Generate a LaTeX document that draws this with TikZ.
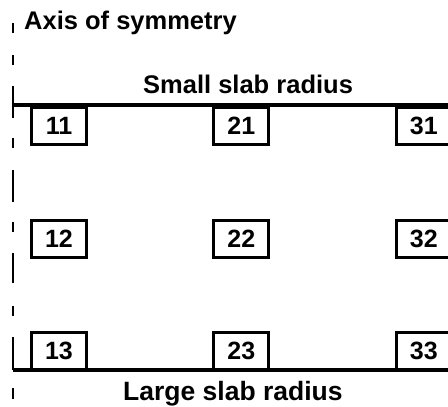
\documentclass[tikz,border=0pt]{standalone}
\usepackage{fontspec}
\setmainfont{Liberation Sans}
\begin{document}
\begin{tikzpicture}[x=1pt,y=-1pt,
  cell/.style={draw,line width=2.8pt,minimum width=55pt,minimum height=37pt,inner sep=0pt,font=\fontsize{25}{30}\selectfont\bfseries},
  lbl/.style={anchor=base west,inner sep=0pt,font=\fontsize{25.5}{30}\selectfont\bfseries},
  slab/.style={line width=4pt},
  axisdash/.style={line width=2.8pt}]
\useasboundingbox (0,0) rectangle (448,407);
\clip (0,0) rectangle (448,407);
% axis of symmetry (dash-dot)
\foreach \a/\b in {23/33,55/65,86/118,138/148,170/202,222/232,253/283,306/316,337/370,388/399}
  \draw[axisdash] (13,\a) -- (13,\b);
% slab boundaries
\coordinate (tl) at (13,104.5);
\coordinate (tr) at (450,104.5);
\coordinate (bl) at (13,370);
\coordinate (br) at (450,370);
\draw[slab] (tl) -- (tr);
\draw[slab] (bl) -- (br);
% cells
\node[cell] (c11) at (59,125.6) {11};
\node[cell] (c21) at (241.3,125.6) {21};
\node[cell] (c31) at (423.8,125.6) {31};
\node[cell] (c12) at (59,239) {12};
\node[cell] (c22) at (241.3,239) {22};
\node[cell] (c32) at (423.8,239) {32};
\node[cell] (c13) at (59,351.2) {13};
\node[cell] (c23) at (241.3,351.2) {23};
\node[cell] (c33) at (423.8,351.2) {33};
% labels
\node[lbl] (ax) at (24,29) {Axis of symmetry};
\node[lbl] (sm) at (143,93) {Small slab radius};
\node[lbl,font=\fontsize{26.5}{30}\selectfont\bfseries] (lg) at (123,400.5) {Large slab radius};
\end{tikzpicture}
\end{document}
